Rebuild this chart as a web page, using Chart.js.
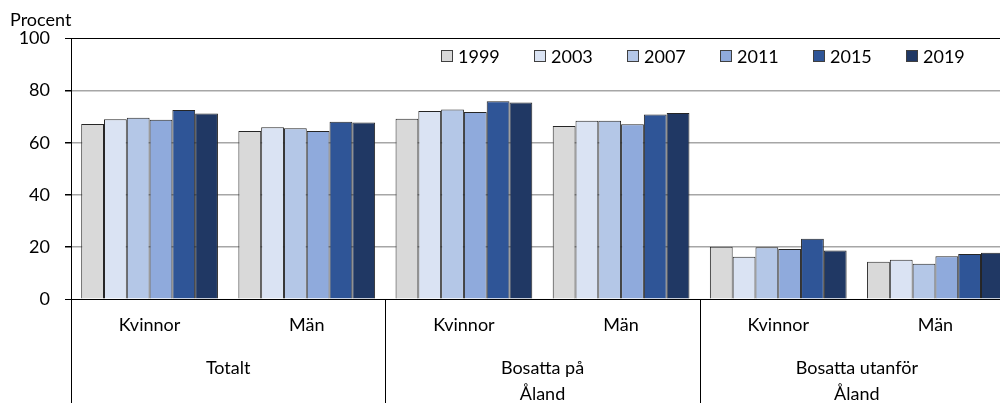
<!DOCTYPE html>
<html>
<head>
<meta charset="utf-8">
<script src="https://cdn.jsdelivr.net/npm/chart.js@4"></script>
<style>
html, body { margin: 0; padding: 0; background: #fff; overflow: hidden; }
#wrap { width: 1014px; height: 403px; position: relative; }
</style>
</head>
<body>
<div id="wrap"><canvas id="chart"></canvas></div>
<script>
const groups = ["Totalt", ["Bosatta på", "Åland"], ["Bosatta utanför", "Åland"]]
const categories = ["Kvinnor", "Män", "Kvinnor", "Män", "Kvinnor", "Män"]
const years = ["1999", "2003", "2007", "2011", "2015", "2019"]
const v1999 = [67.2, 64.5, 69.2, 66.4, 20.1, 14.3]
const v2003 = [69.0, 66.0, 72.2, 68.5, 16.2, 15.1]
const v2007 = [69.6, 65.6, 72.8, 68.5, 19.9, 13.5]
const v2011 = [68.8, 64.5, 71.8, 67.1, 19.2, 16.4]
const v2015 = [72.6, 68.1, 75.9, 70.9, 23.1, 17.3]
const v2019 = [71.2, 67.8, 75.5, 71.4, 18.6, 17.8]
const yTicks = [0, 20, 40, 60, 80, 100]

const series = [v1999, v2003, v2007, v2011, v2015, v2019]
const colors = ["#d9d9d9", "#dae3f3", "#b4c7e7", "#8faadc", "#2f5597", "#203864"]

Chart.defaults.font.family = "Lato"
Chart.defaults.font.size = 18
Chart.defaults.color = "#000"

// legend sits inside the plot area, top right
const legendInside = {
    id: "legendInside",
    afterDraw(chart) {
        const ctx = chart.ctx
        const area = chart.chartArea
        ctx.save()
        ctx.font = "18px Lato"
        ctx.textBaseline = "middle"
        chart.data.datasets.forEach((ds, i) => {
            const x = Math.round(area.left + 370 + i * 93)
            const y = Math.round(area.top + 17)
            ctx.fillStyle = ds.backgroundColor
            ctx.fillRect(x, y - 6, 11, 11)
            ctx.strokeStyle = "#404040"
            ctx.lineWidth = 1
            ctx.strokeRect(x + 0.5, y - 5.5, 11, 11)
            ctx.fillStyle = "#000"
            ctx.fillText(ds.label, x + 17, y + 1)
        })
        ctx.restore()
    }
}

// vertical separators between the groups, below the plot
const groupLines = {
    id: "groupLines",
    afterDraw(chart) {
        const ctx = chart.ctx
        const xs = chart.scales.x
        const bottom = chart.chartArea.bottom
        ctx.save()
        ctx.strokeStyle = "#000"
        ctx.lineWidth = 1
        for (let g = 0; g <= groups.length; g++) {
            const px = Math.round(xs.getPixelForValue(g * 2 - 0.5)) + 0.5
            ctx.beginPath()
            ctx.moveTo(px, bottom)
            ctx.lineTo(px, chart.height)
            ctx.stroke()
        }
        ctx.restore()
    }
}

let datasets = []
years.forEach((y, i) => {
    datasets.push({
        label: y,
        data: series[i],
        backgroundColor: colors[i],
        borderColor: "#262626",
        borderWidth: 1,
        categoryPercentage: 0.87,
        barPercentage: 1
    })
})

new Chart(document.getElementById("chart"), {
    type: "bar",
    data: { labels: categories, datasets: datasets },
    plugins: [legendInside, groupLines],
    options: {
        responsive: true,
        maintainAspectRatio: false,
        animation: false,
        layout: { padding: { left: 10, right: 0, top: 0, bottom: 0 } },
        plugins: {
            legend: { display: false },
            tooltip: { enabled: false },
            title: {
                display: true,
                text: "Procent",
                align: "start",
                color: "#000",
                font: { size: 18, weight: "normal" },
                padding: { top: 9, bottom: 8 }
            }
        },
        scales: {
            x: {
                weight: 0,
                grid: { display: false, drawTicks: false },
                border: { display: true, color: "#000", width: 1 },
                ticks: { padding: 15, autoSkip: false, maxRotation: 0 },
                afterFit: s => { s.height = 36 }
            },
            x2: {
                type: "category",
                labels: groups,
                position: "bottom",
                weight: 1,
                offset: true,
                grid: { display: false, drawTicks: false },
                border: { display: false },
                ticks: { padding: 21, autoSkip: false, maxRotation: 0, font: { lineHeight: 1.4 } },
                afterFit: s => { s.height = 68 }
            },
            y: {
                min: 0,
                max: 100,
                afterBuildTicks: s => { s.ticks = yTicks.map(v => ({ value: v })) },
                ticks: { padding: 15 },
                grid: {
                    color: c => (c.tick.value === 100 || c.tick.value === 0 ? "#000" : "#a6a6a6"),
                    lineWidth: c => (c.tick.value === 100 || c.tick.value === 0 ? 1 : 1.5),
                    tickColor: "#000",
                    tickLength: 6
                },
                border: { color: "#000", width: 1 },
                afterFit: s => { s.width = 61 }
            }
        }
    }
});
</script>
</body>
</html>
